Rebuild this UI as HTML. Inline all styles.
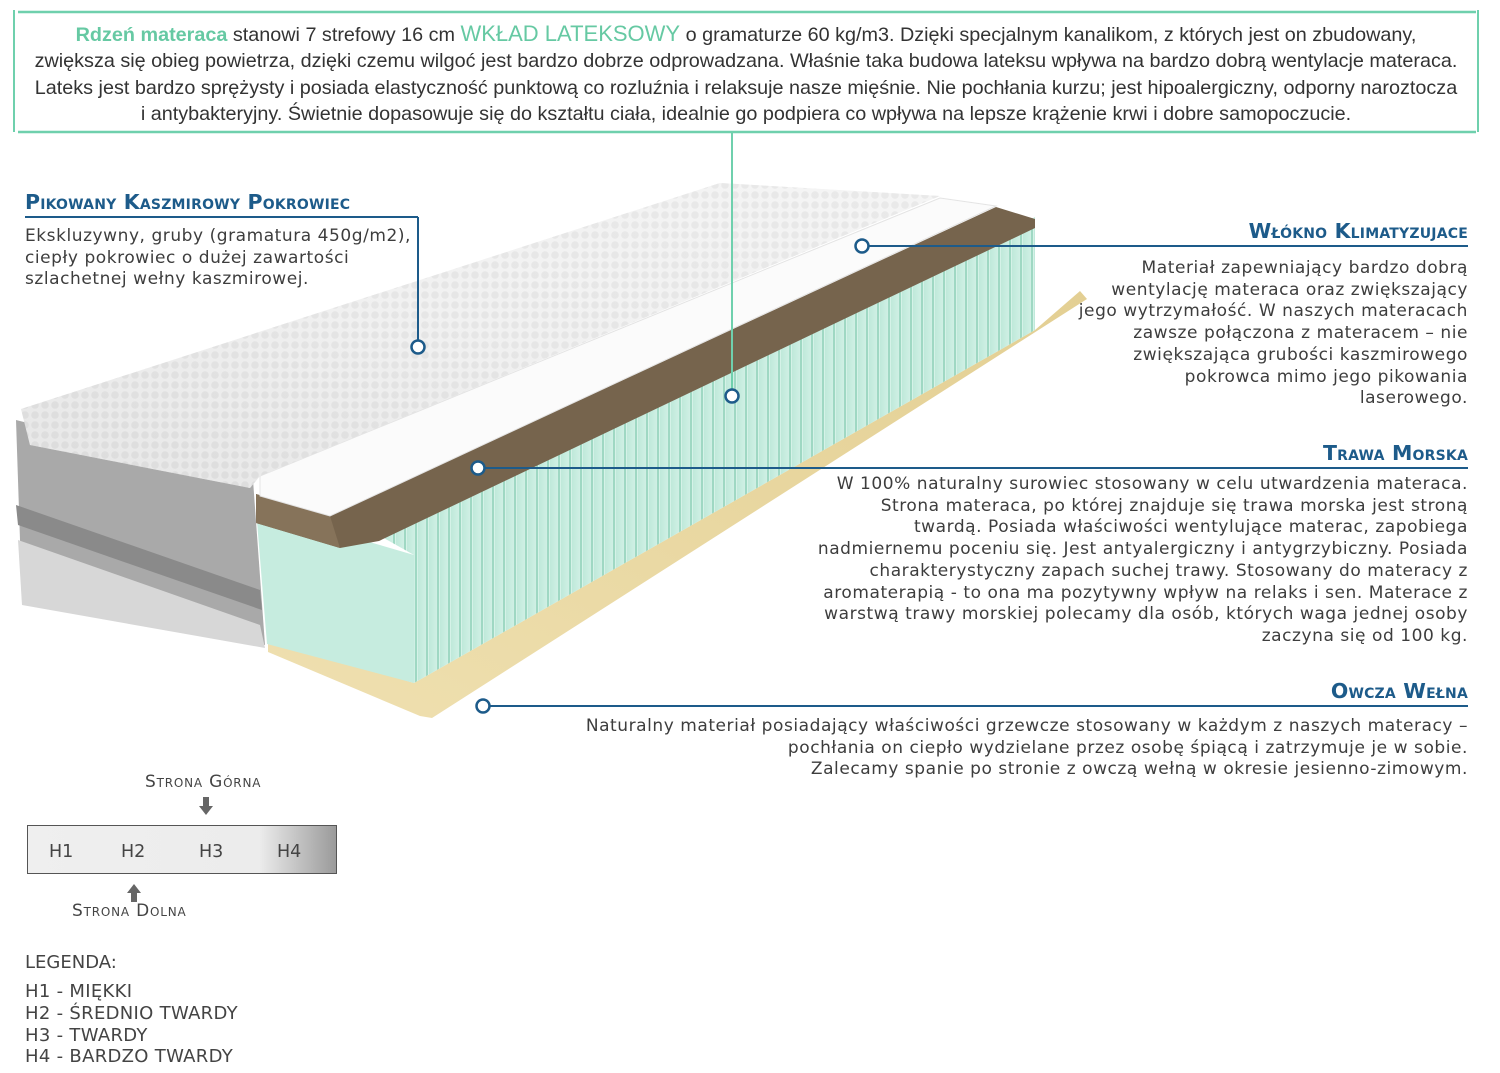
<!DOCTYPE html>
<html><head><meta charset="utf-8">
<style>
html,body{margin:0;padding:0;background:#fff;}
body{width:1500px;height:1073px;position:relative;overflow:hidden;font-family:"DejaVu Sans",Verdana,sans-serif;color:#3a3a3a;}
.abs{position:absolute;white-space:nowrap;}
.top{left:14px;top:21px;width:1464px;text-align:center;font-family:"Liberation Sans",sans-serif;font-size:19.8px;line-height:26.3px;color:#333;}
.top b{color:#66c9a3;font-weight:bold;}
.top span.g{color:#66c9a3;font-size:22px;}
.t{font-family:"DejaVu Sans",sans-serif;font-weight:bold;font-variant:small-caps;color:#1d5b8a;font-size:20.5px;letter-spacing:0.2px;}
.b{font-size:17px;letter-spacing:0.55px;line-height:21.7px;color:#3d3d3d;}
.r{text-align:right;right:32px;}
.sc{font-size:17px;font-variant:small-caps;color:#444;letter-spacing:0.8px;}
</style></head><body>
<svg class="abs" style="left:0;top:0" width="1500" height="1073">
<line x1="14" y1="10" x2="14" y2="132" stroke="#6fd0ad" stroke-width="2"/>
<line x1="1478" y1="10" x2="1478" y2="132" stroke="#6fd0ad" stroke-width="2"/>
<line x1="18" y1="12" x2="1476" y2="12" stroke="#6fd0ad" stroke-width="2.5"/>
<line x1="18" y1="132" x2="1476" y2="132" stroke="#6fd0ad" stroke-width="2.5"/>
<defs>
<linearGradient id="cov" x1="0" y1="1" x2="1" y2="0"><stop offset="0" stop-color="#d8d8d8"/><stop offset="0.5" stop-color="#efefef"/><stop offset="1" stop-color="#f7f7f7"/></linearGradient>
<linearGradient id="grn" x1="0" y1="0" x2="1" y2="0"><stop offset="0" stop-color="#bfe9da"/><stop offset="1" stop-color="#d6f2e8"/></linearGradient>
<linearGradient id="straw" x1="0" y1="1" x2="1" y2="0"><stop offset="0" stop-color="#efe0b0"/><stop offset="1" stop-color="#e3cf93"/></linearGradient>
<pattern id="ribs" width="11" height="20" patternUnits="userSpaceOnUse"><rect width="11" height="20" fill="url(#grn)"/><line x1="9" y1="0" x2="9" y2="20" stroke="#9fd8c3" stroke-width="2"/></pattern>
<pattern id="dots" width="10" height="10" patternUnits="userSpaceOnUse"><rect width="10" height="10" fill="#f2f2f2"/><circle cx="5" cy="5" r="3.8" fill="#dedede"/></pattern>
<linearGradient id="bar" x1="0" y1="0" x2="1" y2="0"><stop offset="0" stop-color="#efefef"/><stop offset="0.75" stop-color="#ececec"/><stop offset="1" stop-color="#9a9a9a"/></linearGradient>
</defs>
<polygon points="1080,291 1087,299 432,718 420,716 268,652 268,640 414,683 1035,330" fill="url(#straw)"/>
<polygon points="382,537 1035,217 1035,330 414,683 414,555" fill="url(#ribs)"/>
<polygon points="256,509 414,555 414,683 267,644" fill="#c6ecdf"/>
<polygon points="996,207 1035,219 1035,228 379,541 340,548 256,523 256,494 330,516" fill="#76644d"/>
<polygon points="256,494 330,516 340,548 256,523" fill="#86735a"/>
<polygon points="940,198 996,206 330,516 260,496 260,476" fill="#fbfbfb" stroke="#e4e4e4"/>
<polygon points="16,420 253,480 265,645 22,600" fill="#a9a9a9"/>
<polygon points="16,505 260,590 262,610 18,525" fill="#8a8a8a"/>
<polygon points="18,540 260,625 265,648 22,605" fill="#d7d7d7"/>
<polygon points="21,409 720,183 940,196 260,476 250,488 30,445" fill="url(#dots)"/>
<polygon points="21,409 720,183 940,196 260,476 250,488 30,445" fill="url(#cov)" opacity="0.45"/>
<g stroke="#1d5b8a" stroke-width="2" fill="#fff">
<line x1="25" y1="217" x2="418" y2="217"/><line x1="418" y1="217" x2="418" y2="340"/>
<line x1="868" y1="246" x2="1468" y2="246"/>
<line x1="485" y1="468" x2="1468" y2="468"/>
<line x1="490" y1="706" x2="1468" y2="706"/>
<circle cx="418" cy="347" r="6.5" stroke-width="2.5"/>
<circle cx="862" cy="246" r="6.5" stroke-width="2.5"/>
<circle cx="478" cy="468" r="6.5" stroke-width="2.5"/>
<circle cx="483" cy="706" r="6.5" stroke-width="2.5"/>
</g>
<line x1="732" y1="133" x2="732" y2="389" stroke="#6fd0ad" stroke-width="2"/>
<circle cx="732" cy="396" r="6.5" stroke="#1d5b8a" stroke-width="2.5" fill="#fff"/>
<rect x="27.5" y="825.5" width="309" height="48" fill="url(#bar)" stroke="#555" stroke-width="1"/>
<polygon points="203,797 209,797 209,806 213,806 206,815 199,806 203,806" fill="#666"/>
<polygon points="131,902 137,902 137,893 141,893 134,884 127,893 131,893" fill="#666"/>
</svg>

<div class="abs top"><b>Rdzeń materaca</b> stanowi 7 strefowy 16 cm <span class="g">WKŁAD LATEKSOWY</span> o gramaturze 60 kg/m3. Dzięki specjalnym kanalikom, z których jest on zbudowany,<br>zwiększa się obieg powietrza, dzięki czemu wilgoć jest bardzo dobrze odprowadzana. Właśnie taka budowa lateksu wpływa na bardzo dobrą wentylacje materaca.<br>Lateks jest bardzo sprężysty i posiada elastyczność punktową co rozluźnia i relaksuje nasze mięśnie. Nie pochłania kurzu; jest hipoalergiczny, odporny naroztocza<br>i antybakteryjny. Świetnie dopasowuje się do kształtu ciała, idealnie go podpiera co wpływa na lepsze krążenie krwi i dobre samopoczucie.</div>

<div class="abs t" style="left:25px;top:190px;">Pikowany Kaszmirowy Pokrowiec</div>
<div class="abs b" style="left:25px;top:226px;">Ekskluzywny, gruby (gramatura 450g/m2),<br>ciepły pokrowiec o dużej zawartości<br>szlachetnej wełny kaszmirowej.</div>

<div class="abs t r" style="top:219px;">Włókno Klimatyzujace</div>
<div class="abs b r" style="top:258px;">Materiał zapewniający bardzo dobrą<br>wentylację materaca oraz zwiększający<br>jego wytrzymałość. W naszych materacach<br>zawsze połączona z materacem – nie<br>zwiększająca grubości kaszmirowego<br>pokrowca mimo jego pikowania<br>laserowego.</div>

<div class="abs t r" style="top:441px;">Trawa Morska</div>
<div class="abs b r" style="top:474px;">W 100% naturalny surowiec stosowany w celu utwardzenia materaca.<br>Strona materaca, po której znajduje się trawa morska jest stroną<br>twardą. Posiada właściwości wentylujące materac, zapobiega<br>nadmiernemu poceniu się. Jest antyalergiczny i antygrzybiczny. Posiada<br>charakterystyczny zapach suchej trawy. Stosowany do materacy z<br>aromaterapią - to ona ma pozytywny wpływ na relaks i sen. Materace z<br>warstwą trawy morskiej polecamy dla osób, których waga jednej osoby<br>zaczyna się od 100 kg.</div>

<div class="abs t r" style="top:679px;">Owcza Wełna</div>
<div class="abs b r" style="top:716px;">Naturalny materiał posiadający właściwości grzewcze stosowany w każdym z naszych materacy –<br>pochłania on ciepło wydzielane przez osobę śpiącą i zatrzymuje je w sobie.<br>Zalecamy spanie po stronie z owczą wełną w okresie jesienno-zimowym.</div>

<div class="abs sc" style="left:145px;top:772px;">Strona Górna</div>
<div class="abs sc" style="left:72px;top:901px;">Strona Dolna</div>
<div class="abs" style="left:49px;top:842px;font-size:17.5px;color:#444;">H1</div>
<div class="abs" style="left:121px;top:842px;font-size:17.5px;color:#444;">H2</div>
<div class="abs" style="left:199px;top:842px;font-size:17.5px;color:#444;">H3</div>
<div class="abs" style="left:277px;top:842px;font-size:17.5px;color:#444;">H4</div>

<div class="abs" style="left:25px;top:952px;font-size:18px;color:#444;">LEGENDA:</div>
<div class="abs" style="left:25px;top:981px;font-size:18px;line-height:21.8px;letter-spacing:0.3px;color:#444;">H1 - MIĘKKI<br>H2 - ŚREDNIO TWARDY<br>H3 - TWARDY<br>H4 - BARDZO TWARDY</div>
</body></html>
